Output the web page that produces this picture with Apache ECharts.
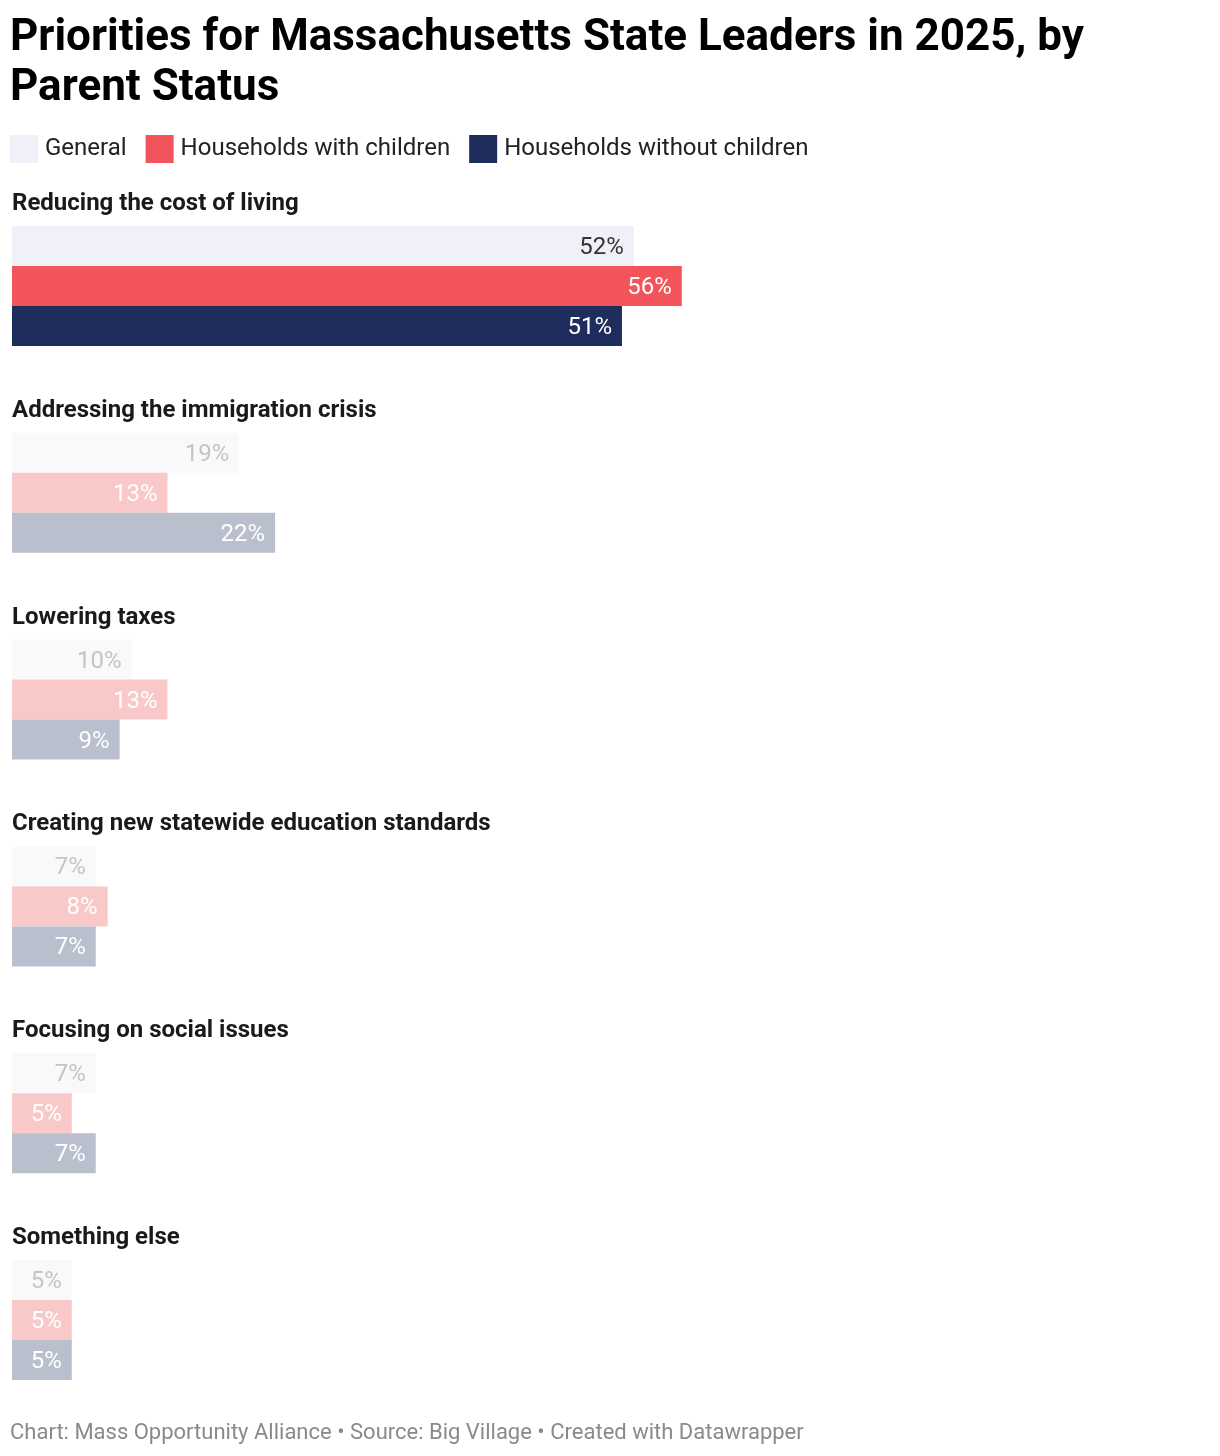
<!DOCTYPE html>
<html>
<head>
<meta charset="utf-8">
<script src="https://cdn.jsdelivr.net/npm/echarts@6/dist/echarts.min.js"></script>
<style>
  html, body { margin: 0; padding: 0; background: #fff; }
  #main { width: 1220px; height: 1456px; }
</style>
</head>
<body>
<div id="main"></div>
<script>
// data
var priorities = ['Reducing the cost of living', 'Addressing the immigration crisis', 'Lowering taxes',
  'Creating new statewide education standards', 'Focusing on social issues', 'Something else'];
var seriesNames = ['General', 'Households with children', 'Households without children'];
var general = [52, 19, 10, 7, 7, 5];
var withChildren = [56, 13, 13, 8, 5, 5];
var withoutChildren = [51, 22, 9, 7, 7, 5];

var values = [general, withChildren, withoutChildren];
// full colours for first group, faded for the rest
var fullColors = ['#eff0f8', '#f2545b', '#1f2d5c'];
var fadedColors = ['#f9f9fc', '#f9c9ca', '#b9bfcd'];
var fullLabel = ['#333333', '#ffffff', '#ffffff'];
var fadedLabel = ['#c4c4c4', '#ffffff', '#ffffff'];

var font = 'Roboto';
var step = 206.8;
var firstTop = 226;

var grids = [], xAxes = [], yAxes = [], series = [];
var titles = [{
  text: 'Priorities for Massachusetts State Leaders in 2025, by\nParent Status',
  left: 10, top: 14, padding: 0,
  textStyle: { fontFamily: font, fontSize: 44, fontWeight: 'bold', color: '#000', lineHeight: 50 }
}];

for (var i = 0; i < priorities.length; i++) {
  var gTop = firstTop + i * step;
  grids.push({ left: 12, width: 1196, top: gTop, height: 120 });
  xAxes.push({ gridIndex: i, type: 'value', min: 0, max: 100, show: false });
  yAxes.push({ gridIndex: i, type: 'category', data: [priorities[i]], inverse: true, show: false });
  titles.push({
    text: priorities[i], left: 12, top: gTop - 34, padding: 0,
    textStyle: { fontFamily: font, fontSize: 24, fontWeight: 'bold', color: '#1a1a1a', lineHeight: 24 }
  });
  for (var s = 0; s < 3; s++) {
    series.push({
      name: seriesNames[s],
      type: 'bar',
      xAxisIndex: i,
      yAxisIndex: i,
      barWidth: 40,
      barGap: '0%',
      silent: true,
      itemStyle: { color: i === 0 ? fullColors[s] : fadedColors[s] },
      label: {
        show: true,
        position: 'insideRight',
        distance: 10,
        offset: [0, 2],
        formatter: '{c}%',
        fontFamily: font,
        fontSize: 24,
        color: i === 0 ? fullLabel[s] : fadedLabel[s]
      },
      data: [values[s][i]]
    });
  }
}

titles.push({
  text: 'Chart: Mass Opportunity Alliance • Source: Big Village • Created with Datawrapper',
  left: 10, top: 1422, padding: 0,
  textStyle: { fontFamily: font, fontSize: 22, fontWeight: 'normal', color: '#8a8a8a', lineHeight: 22 }
});

var chart = echarts.init(document.getElementById('main'));
chart.setOption({
  animation: false,
  title: titles,
  legend: {
    data: seriesNames,
    left: 10, top: 135, padding: 0,
    icon: 'rect',
    itemWidth: 28, itemHeight: 28, itemGap: 19,
    selectedMode: false,
    textStyle: { fontFamily: font, fontSize: 24, color: '#222', padding: [0, 0, 0, 2] }
  },
  grid: grids,
  xAxis: xAxes,
  yAxis: yAxes,
  series: series
});
</script>
</body>
</html>
